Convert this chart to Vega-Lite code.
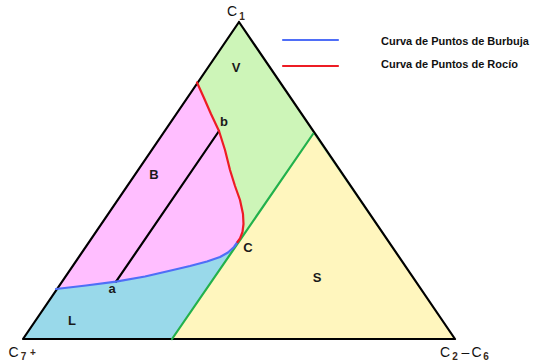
{
  "$schema": "https://vega.github.io/schema/vega-lite/v6.json",
  "width": 537,
  "height": 364,
  "padding": 0,
  "autosize": {"type": "fit", "contains": "padding"},
  "background": "white",
  "config": {"view": {"stroke": null}},
  "datasets": {
    "regions": [
      {"region": "V", "o": 1, "x": 239, "y": 22},
      {"region": "V", "o": 2, "x": 455, "y": 339},
      {"region": "V", "o": 3, "x": 23, "y": 339},
      {"region": "S", "o": 1, "x": 313, "y": 134},
      {"region": "S", "o": 2, "x": 455, "y": 339},
      {"region": "S", "o": 3, "x": 172, "y": 339},
      {"region": "L", "o": 1, "x": 23, "y": 339},
      {"region": "L", "o": 2, "x": 172, "y": 339},
      {"region": "L", "o": 3, "x": 238.5, "y": 242},
      {"region": "L", "o": 4, "x": 234, "y": 247},
      {"region": "L", "o": 5, "x": 228, "y": 252.5},
      {"region": "L", "o": 6, "x": 220, "y": 257},
      {"region": "L", "o": 7, "x": 207, "y": 261.5},
      {"region": "L", "o": 8, "x": 190, "y": 266},
      {"region": "L", "o": 9, "x": 173, "y": 270},
      {"region": "L", "o": 10, "x": 145, "y": 276.5},
      {"region": "L", "o": 11, "x": 116, "y": 281.7},
      {"region": "L", "o": 12, "x": 86, "y": 285.5},
      {"region": "L", "o": 13, "x": 56, "y": 289},
      {"region": "B", "o": 1, "x": 56, "y": 289},
      {"region": "B", "o": 2, "x": 197, "y": 82.5},
      {"region": "B", "o": 3, "x": 204, "y": 98},
      {"region": "B", "o": 4, "x": 211, "y": 114},
      {"region": "B", "o": 5, "x": 219, "y": 131},
      {"region": "B", "o": 6, "x": 225, "y": 150},
      {"region": "B", "o": 7, "x": 230, "y": 170},
      {"region": "B", "o": 8, "x": 235, "y": 186},
      {"region": "B", "o": 9, "x": 240, "y": 200},
      {"region": "B", "o": 10, "x": 243, "y": 214},
      {"region": "B", "o": 11, "x": 243.5, "y": 224},
      {"region": "B", "o": 12, "x": 242.5, "y": 232},
      {"region": "B", "o": 13, "x": 240, "y": 238.5},
      {"region": "B", "o": 14, "x": 237.5, "y": 242},
      {"region": "B", "o": 15, "x": 234, "y": 247},
      {"region": "B", "o": 16, "x": 228, "y": 252.5},
      {"region": "B", "o": 17, "x": 220, "y": 257},
      {"region": "B", "o": 18, "x": 207, "y": 261.5},
      {"region": "B", "o": 19, "x": 190, "y": 266},
      {"region": "B", "o": 20, "x": 173, "y": 270},
      {"region": "B", "o": 21, "x": 145, "y": 276.5},
      {"region": "B", "o": 22, "x": 116, "y": 281.7},
      {"region": "B", "o": 23, "x": 86, "y": 285.5}
    ],
    "curves": [
      {"curve": "triangle", "o": 1, "x": 239, "y": 22},
      {"curve": "triangle", "o": 2, "x": 455, "y": 339},
      {"curve": "triangle", "o": 3, "x": 23, "y": 339},
      {"curve": "triangle", "o": 4, "x": 239, "y": 22},
      {"curve": "green", "o": 1, "x": 172, "y": 339},
      {"curve": "green", "o": 2, "x": 313, "y": 134},
      {"curve": "tie", "o": 1, "x": 116, "y": 281.7},
      {"curve": "tie", "o": 2, "x": 219, "y": 131},
      {"curve": "bubble", "o": 1, "x": 56, "y": 289},
      {"curve": "bubble", "o": 2, "x": 86, "y": 285.5},
      {"curve": "bubble", "o": 3, "x": 116, "y": 281.7},
      {"curve": "bubble", "o": 4, "x": 145, "y": 276.5},
      {"curve": "bubble", "o": 5, "x": 173, "y": 270},
      {"curve": "bubble", "o": 6, "x": 190, "y": 266},
      {"curve": "bubble", "o": 7, "x": 207, "y": 261.5},
      {"curve": "bubble", "o": 8, "x": 220, "y": 257},
      {"curve": "bubble", "o": 9, "x": 228, "y": 252.5},
      {"curve": "bubble", "o": 10, "x": 234, "y": 247},
      {"curve": "bubble", "o": 11, "x": 237.5, "y": 242},
      {"curve": "dew", "o": 1, "x": 197, "y": 82.5},
      {"curve": "dew", "o": 2, "x": 204, "y": 98},
      {"curve": "dew", "o": 3, "x": 211, "y": 114},
      {"curve": "dew", "o": 4, "x": 219, "y": 131},
      {"curve": "dew", "o": 5, "x": 225, "y": 150},
      {"curve": "dew", "o": 6, "x": 230, "y": 170},
      {"curve": "dew", "o": 7, "x": 235, "y": 186},
      {"curve": "dew", "o": 8, "x": 240, "y": 200},
      {"curve": "dew", "o": 9, "x": 243, "y": 214},
      {"curve": "dew", "o": 10, "x": 243.5, "y": 224},
      {"curve": "dew", "o": 11, "x": 242.5, "y": 232},
      {"curve": "dew", "o": 12, "x": 240, "y": 238.5},
      {"curve": "dew", "o": 13, "x": 237.5, "y": 242},
      {"curve": "legend_bubble", "o": 1, "x": 283, "y": 40},
      {"curve": "legend_bubble", "o": 2, "x": 338, "y": 40},
      {"curve": "legend_dew", "o": 1, "x": 283, "y": 66},
      {"curve": "legend_dew", "o": 2, "x": 338, "y": 66}
    ],
    "regionLabels": [
      {"label": "V", "x": 236, "y": 68},
      {"label": "B", "x": 154, "y": 175},
      {"label": "b", "x": 224, "y": 122},
      {"label": "C", "x": 248, "y": 248},
      {"label": "S", "x": 317, "y": 278},
      {"label": "a", "x": 112, "y": 289},
      {"label": "L", "x": 72, "y": 321}
    ],
    "vertexMain": [
      {"label": "C", "x": 232, "y": 12},
      {"label": "C", "x": 13.5, "y": 353},
      {"label": "C", "x": 445, "y": 353},
      {"label": "–", "x": 465.5, "y": 353},
      {"label": "C", "x": 476.5, "y": 353}
    ],
    "vertexSub": [
      {"label": "1", "x": 242, "y": 17},
      {"label": "7", "x": 23.5, "y": 357},
      {"label": "+", "x": 33, "y": 353},
      {"label": "2", "x": 455, "y": 357},
      {"label": "6", "x": 486, "y": 357}
    ],
    "legendLabels": [
      {"label": "Curva de Puntos de Burbuja", "x": 381, "y": 42},
      {"label": "Curva de Puntos de Rocío", "x": 381, "y": 65}
    ]
  },
  "data": {"name": "regions"},
  "encoding": {
    "x": {"field": "x", "type": "quantitative", "scale": {"domain": [0, 537], "nice": false, "zero": false}, "axis": null},
    "y": {"field": "y", "type": "quantitative", "scale": {"domain": [0, 364], "nice": false, "zero": false, "reverse": true}, "axis": null}
  },
  "layer": [
    {
      "data": {"name": "regions"},
      "transform": [{"filter": "datum.region === 'V'"}],
      "mark": {"type": "line", "fill": "#CDF5B8", "stroke": null, "strokeWidth": 0},
      "encoding": {"order": {"field": "o", "type": "quantitative"}}
    },
    {
      "data": {"name": "regions"},
      "transform": [{"filter": "datum.region === 'S'"}],
      "mark": {"type": "line", "fill": "#FFF6BE", "stroke": null, "strokeWidth": 0},
      "encoding": {"order": {"field": "o", "type": "quantitative"}}
    },
    {
      "data": {"name": "regions"},
      "transform": [{"filter": "datum.region === 'L'"}],
      "mark": {"type": "line", "fill": "#99D9EA", "stroke": null, "strokeWidth": 0},
      "encoding": {"order": {"field": "o", "type": "quantitative"}}
    },
    {
      "data": {"name": "regions"},
      "transform": [{"filter": "datum.region === 'B'"}],
      "mark": {"type": "line", "fill": "#FFBEFF", "stroke": null, "strokeWidth": 0},
      "encoding": {"order": {"field": "o", "type": "quantitative"}}
    },
    {
      "data": {"name": "curves"},
      "mark": {"type": "line", "strokeCap": "round", "strokeJoin": "round"},
      "encoding": {
        "order": {"field": "o", "type": "quantitative"},
        "color": {"field": "curve", "type": "nominal", "legend": null,
          "scale": {"domain": ["triangle", "green", "tie", "bubble", "dew", "legend_bubble", "legend_dew"],
                    "range": ["#000000", "#22B14C", "#000000", "#4F6EF7", "#ED1C24", "#4F6EF7", "#ED1C24"]}},
        "strokeWidth": {"field": "curve", "type": "nominal", "legend": null,
          "scale": {"domain": ["triangle", "green", "tie", "bubble", "dew", "legend_bubble", "legend_dew"],
                    "range": [2.2, 2.2, 2, 3.5, 3.5, 3, 3]}}
      }
    },
    {
      "data": {"name": "regionLabels"},
      "mark": {"type": "text", "font": "Liberation Sans", "fontSize": 13, "fontWeight": "bold", "color": "#1a1a1a", "align": "center", "baseline": "middle"},
      "encoding": {"text": {"field": "label"}}
    },
    {
      "data": {"name": "vertexMain"},
      "mark": {"type": "text", "font": "Liberation Sans", "fontSize": 14, "color": "#111111", "align": "center", "baseline": "middle"},
      "encoding": {"text": {"field": "label"}}
    },
    {
      "data": {"name": "vertexSub"},
      "mark": {"type": "text", "font": "Liberation Sans", "fontSize": 10, "fontWeight": "bold", "color": "#3a2a1a", "align": "center", "baseline": "middle"},
      "encoding": {"text": {"field": "label"}}
    },
    {
      "data": {"name": "legendLabels"},
      "mark": {"type": "text", "font": "Liberation Sans", "fontSize": 11, "fontWeight": "bold", "color": "#111111", "align": "left", "baseline": "middle"},
      "encoding": {"text": {"field": "label"}}
    }
  ]
}
